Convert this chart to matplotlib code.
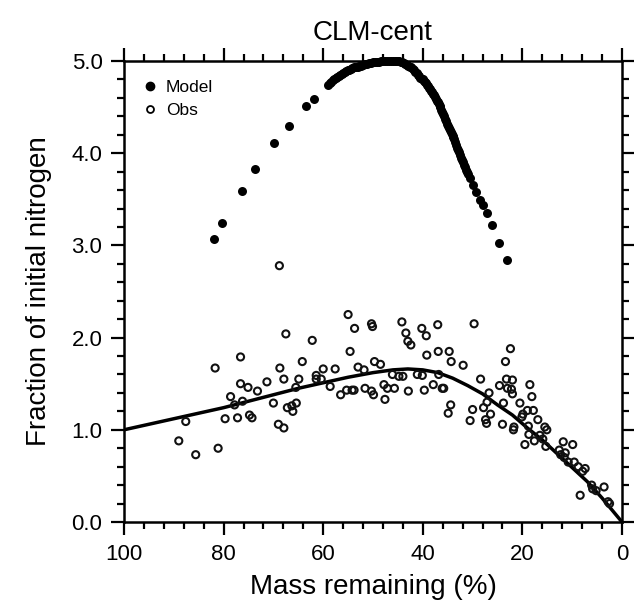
import matplotlib
matplotlib.use('Agg')
import matplotlib.pyplot as plt
from matplotlib.ticker import MultipleLocator, FormatStrFormatter
from matplotlib.lines import Line2D

plt.rcParams['font.family'] = ['Liberation Sans', 'DejaVu Sans']

title = "CLM-cent"
xlabel = "Mass remaining (%)"
ylabel = "Fraction of initial nitrogen"
legend_labels = ["Model", "Obs"]

model_x = [81.9, 80.3, 76.4, 73.7, 69.9, 66.9, 63.5, 61.9,
           59.0, 58.7, 58.4, 58.1, 57.8, 57.5, 57.2, 56.9, 56.6, 56.3, 56.0, 55.7,
           55.4, 55.1, 54.8, 54.5, 54.2, 53.8, 53.5, 53.1, 52.8, 52.4, 52.0, 51.6,
           51.2, 50.8, 50.4, 50.0, 49.6, 49.2, 48.8, 48.4, 48.0, 47.6, 47.2, 46.8,
           46.4, 46.0, 45.6, 45.3,
           45.0, 44.7, 44.4, 44.1, 43.8, 43.5, 43.2, 42.9, 42.6, 42.3, 42.0, 41.7,
           41.5, 41.2, 41.0, 40.7, 40.5, 40.2, 40.0, 39.8, 39.6, 39.4, 39.2, 39.0,
           38.8, 38.6, 38.4, 38.2, 38.0, 37.8, 37.6, 37.4, 37.2, 37.0, 36.8, 36.6,
           36.5, 36.3, 36.1, 35.9, 35.7, 35.5, 35.3, 35.1, 34.9, 34.7, 34.5, 34.3,
           34.2, 34.0, 33.9, 33.7, 33.5, 33.3, 33.1, 32.9, 32.7, 32.5, 32.3, 32.1,
           31.9, 31.7, 31.5, 31.3, 31.2, 30.9, 30.6,
           29.9, 29.3, 28.5, 28.0, 27.2, 26.2, 24.6, 23.0]
model_y = [3.07, 3.24, 3.59, 3.83, 4.11, 4.30, 4.51, 4.59,
           4.74, 4.76, 4.77, 4.79, 4.80, 4.82, 4.83, 4.84, 4.85, 4.86, 4.87, 4.88,
           4.89, 4.90, 4.90, 4.91, 4.92, 4.93, 4.93, 4.94, 4.95, 4.95, 4.96, 4.97,
           4.97, 4.98, 4.98, 4.99, 4.99, 4.99, 4.99, 5.00, 5.00, 5.00, 5.00, 5.00,
           5.00, 5.00, 5.00, 5.00,
           5.00, 5.00, 4.99, 4.99, 4.98, 4.97, 4.96, 4.95, 4.94, 4.93, 4.91, 4.90,
           4.88, 4.87, 4.85, 4.84, 4.82, 4.81, 4.80, 4.78, 4.77, 4.76, 4.74, 4.73,
           4.71, 4.70, 4.68, 4.66, 4.64, 4.63, 4.61, 4.59, 4.57, 4.55, 4.53, 4.51,
           4.50, 4.47, 4.45, 4.42, 4.40, 4.37, 4.35, 4.32, 4.30, 4.27, 4.25, 4.23,
           4.21, 4.19, 4.18, 4.15, 4.12, 4.09, 4.06, 4.04, 4.01, 3.98, 3.95, 3.93,
           3.90, 3.87, 3.85, 3.82, 3.80, 3.77, 3.73,
           3.66, 3.58, 3.49, 3.44, 3.35, 3.22, 3.03, 2.84]

obs_x = [89.0, 87.6, 85.6, 81.7, 81.1, 79.7, 78.6, 77.8, 77.2, 76.6, 76.6, 76.2,
         75.1, 74.8, 74.3, 73.2, 71.3, 70.0, 69.0, 68.7, 68.8, 67.9, 67.9, 67.5,
         67.2, 66.3, 66.1, 65.4, 65.5, 64.9, 64.2, 62.2, 61.4, 61.4, 60.4, 60.0,
         58.6, 57.6, 56.5, 55.3, 55.0, 54.6, 54.2, 53.8, 53.7, 53.0, 51.8, 51.6,
         50.3, 50.3, 50.1, 49.9, 49.7, 48.5, 47.8, 47.6, 47.1, 46.1, 45.7, 44.8,
         44.2, 44.0, 43.4, 43.0, 42.9, 42.4, 41.1, 40.2, 40.1, 39.7, 39.3, 39.2,
         37.9, 37.0, 36.9, 36.8, 36.1, 35.8, 34.9, 34.4, 34.7, 34.3, 31.9, 30.5,
         30.0, 29.7, 28.4, 27.8, 27.4, 27.2, 27.1, 26.7, 26.4, 24.6, 24.0, 23.8,
         23.4, 23.2, 23.0, 22.4, 22.2, 22.0, 22.0, 21.8, 21.7, 20.5, 20.1, 19.9,
         19.5, 19.0, 18.8, 18.7, 18.5, 18.1, 17.8, 17.6, 16.9, 16.5, 15.9, 15.5,
         15.1, 15.3, 11.8, 9.9, 12.6, 12.3, 11.4, 11.6, 10.8, 9.6, 8.8, 8.4,
         7.9, 7.4, 6.1, 5.9, 5.2, 3.6, 2.8, 2.5]
obs_y = [0.88, 1.09, 0.73, 1.67, 0.80, 1.12, 1.36, 1.27, 1.13, 1.79, 1.50, 1.31,
         1.46, 1.16, 1.13, 1.42, 1.52, 1.29, 1.06, 1.67, 2.78, 1.02, 1.55, 2.04,
         1.24, 1.26, 1.20, 1.29, 1.46, 1.55, 1.74, 1.97, 1.59, 1.55, 1.55, 1.66,
         1.47, 1.66, 1.38, 1.43, 2.25, 1.85, 1.43, 1.43, 2.10, 1.68, 1.65, 1.45,
         1.42, 2.15, 2.12, 1.38, 1.74, 1.71, 1.49, 1.33, 1.45, 1.60, 1.45, 1.58,
         2.17, 1.58, 2.05, 1.96, 1.42, 1.92, 1.60, 2.10, 1.59, 1.43, 2.02, 1.81,
         1.49, 2.14, 1.85, 1.60, 1.45, 1.45, 1.18, 1.27, 1.85, 1.74, 1.70, 1.10,
         1.22, 2.15, 1.55, 1.24, 1.11, 1.07, 1.30, 1.40, 1.17, 1.48, 1.06, 1.29,
         1.74, 1.55, 1.45, 1.88, 1.44, 1.39, 1.54, 1.00, 1.03, 1.29, 1.14, 1.17,
         0.84, 1.21, 1.04, 0.95, 1.49, 1.36, 1.21, 0.88, 1.11, 0.94, 0.90, 1.03,
         1.00, 0.82, 0.87, 0.84, 0.78, 0.73, 0.75, 0.70, 0.65, 0.65, 0.60, 0.29,
         0.55, 0.58, 0.40, 0.36, 0.34, 0.38, 0.22, 0.20]

line_x = [100, 95, 90, 85, 80, 75, 70, 65, 60, 55, 50, 46, 43, 40, 37, 34, 31,
          28, 25, 22, 19, 16, 13, 10, 7, 4, 2, 0]
line_y = [1.00, 1.06, 1.12, 1.18, 1.24, 1.31, 1.38, 1.45, 1.51, 1.57, 1.62, 1.65,
          1.66, 1.65, 1.62, 1.56, 1.48, 1.39, 1.27, 1.16, 1.02, 0.89, 0.74, 0.59,
          0.44, 0.26, 0.13, 0.0]

fig = plt.figure(figsize=(6.34, 6.09), dpi=100)
ax = fig.add_axes([124/634, 87/609, 498/634, 461/609])

ax.plot(line_x, line_y, color='black', lw=2.5, zorder=2, solid_capstyle='butt')
ax.scatter(obs_x, obs_y, s=26, facecolors='none', edgecolors='#111111',
           linewidths=1.5, zorder=3, clip_on=False)
ax.scatter(model_x, model_y, s=42, color='black', linewidths=0, zorder=4,
           clip_on=False)

ax.set_xlim(100, 0)
ax.set_ylim(0, 5)
ax.xaxis.set_major_locator(MultipleLocator(20))
ax.xaxis.set_minor_locator(MultipleLocator(4))
ax.yaxis.set_major_locator(MultipleLocator(1))
ax.yaxis.set_minor_locator(MultipleLocator(0.2))
ax.yaxis.set_major_formatter(FormatStrFormatter('%.1f'))

for s in ax.spines.values():
    s.set_linewidth(1.8)
ax.tick_params(which='both', direction='out', top=True, right=True, width=1.6)
ax.tick_params(which='major', length=9.5, labelsize=16, pad=6)
ax.tick_params(which='minor', length=4.8)

ax.set_title(title, fontsize=20, pad=15)
ax.set_xlabel(xlabel, fontsize=20, labelpad=7)
ax.set_ylabel(ylabel, fontsize=20, labelpad=14)

handles = [Line2D([], [], ls='none', marker='o', ms=6, color='black'),
           Line2D([], [], ls='none', marker='o', ms=5, mfc='none', mec='black', mew=1.3)]
ax.legend(handles, legend_labels, loc='upper left', frameon=False, fontsize=12.5,
          handlelength=0.8, handletextpad=0.5, borderaxespad=0.7, labelspacing=0.45)

fig.savefig('out.png', dpi=100)
